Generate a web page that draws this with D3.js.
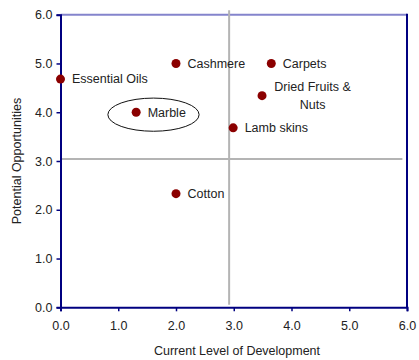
<!DOCTYPE html>
<html>
<head>
<meta charset="utf-8">
<script src="https://cdn.jsdelivr.net/npm/d3@7"></script>
<style>
  html, body { margin: 0; padding: 0; background: #fff; }
  svg { display: block; font-family: "Liberation Sans", Arial, sans-serif; }
</style>
</head>
<body>
<svg id="chart" width="419" height="360"></svg>
<script>
// Products positioned by current development vs. potential opportunities
const products = ["Essential Oils", "Cashmere", "Marble", "Carpets", "Dried Fruits & Nuts", "Lamb skins", "Cotton"];
const development = [0.0, 2.0, 1.31, 3.65, 3.49, 2.99, 2.0];
const opportunities = [4.68, 5.0, 4.0, 5.0, 4.34, 3.68, 2.33];

// Quadrant divider lines (start and end points in data units)
const dividerV = [[2.92, 0.05], [2.92, 6.09]];
const dividerH = [[0.0, 3.04], [5.92, 3.04]];

// Highlight ring around one product: centre and radii in data units
const highlightCenter = [1.61, 3.95];
const highlightRadii = [0.79, 0.34];

const tickValues = [0, 1, 2, 3, 4, 5, 6];
const xTitle = "Current Level of Development";
const yTitle = "Potential Opportunities";

const svg = d3.select("#chart");
const plotLeft = 60.5, plotRight = 407, plotTop = 14.7, plotBottom = 307.3;

const x = d3.scaleLinear().domain([0, 6]).range([plotLeft, plotRight]);
const y = d3.scaleLinear().domain([0, 6]).range([plotBottom, plotTop]);

// frame: top and right edges
svg.append("line").attr("x1", plotLeft).attr("x2", plotRight).attr("y1", plotTop).attr("y2", plotTop)
  .attr("stroke", "#8484cc").attr("stroke-width", 2);
svg.append("line").attr("x1", plotRight).attr("x2", plotRight).attr("y1", plotTop - 1).attr("y2", plotBottom)
  .attr("stroke", "#000080").attr("stroke-width", 2);

// quadrant dividers
const line = d3.line().x(d => x(d[0])).y(d => y(d[1]));
[dividerV, dividerH].forEach(seg => {
  svg.append("path").attr("d", line(seg)).attr("fill", "none")
    .attr("stroke", "#b4b4b4").attr("stroke-width", 2);
});

// axes
const fmt = d3.format(".1f");
const xAxis = svg.append("g").attr("transform", `translate(0,${plotBottom})`)
  .call(d3.axisBottom(x).tickValues(tickValues).tickFormat(fmt).tickSize(4).tickPadding(10));
const yAxis = svg.append("g").attr("transform", `translate(${plotLeft},0)`)
  .call(d3.axisLeft(y).tickValues(tickValues).tickFormat(fmt).tickSize(4).tickPadding(4));

[xAxis, yAxis].forEach(g => {
  g.select(".domain").attr("stroke", "#000080").attr("stroke-width", 2);
  g.selectAll(".tick line").attr("stroke", "#000080").attr("stroke-width", 1.5);
  g.selectAll(".tick text").attr("fill", "#222").style("font-size", "12.5px")
    .style("font-family", "'Liberation Sans', Arial, sans-serif");
});

// axis titles
svg.append("text").attr("x", 237).attr("y", 355).attr("text-anchor", "middle")
  .attr("fill", "#222").style("font-size", "12.5px").text(xTitle);
svg.append("text").attr("transform", `translate(21,${(plotTop + plotBottom) / 2}) rotate(-90)`)
  .attr("text-anchor", "middle").attr("fill", "#222").style("font-size", "12.5px").text(yTitle);

// highlight ellipse
svg.append("ellipse")
  .attr("cx", x(highlightCenter[0])).attr("cy", y(highlightCenter[1]))
  .attr("rx", x(highlightRadii[0]) - x(0)).attr("ry", y(0) - y(highlightRadii[1]))
  .attr("fill", "none").attr("stroke", "#111").attr("stroke-width", 1);

// points
const data = products.map((name, i) => ({ name, dx: development[i], oy: opportunities[i] }));
svg.append("g").selectAll("circle").data(data).join("circle")
  .attr("cx", d => x(d.dx)).attr("cy", d => y(d.oy)).attr("r", 4.5)
  .attr("fill", "#8b0000");

// labels
const labels = svg.append("g").attr("fill", "#222").style("font-size", "12.5px");
data.forEach(d => {
  if (d.name === "Dried Fruits & Nuts") {
    const cx = x(d.dx) + 50.5;
    const t = labels.append("text").attr("text-anchor", "middle");
    t.append("tspan").attr("x", cx).attr("y", y(d.oy) - 5).text("Dried Fruits &");
    t.append("tspan").attr("x", cx).attr("y", y(d.oy) + 13).text("Nuts");
  } else {
    labels.append("text").attr("x", x(d.dx) + 11.5).attr("y", y(d.oy))
      .attr("dy", "0.35em").text(d.name);
  }
});
</script>
</body>
</html>
